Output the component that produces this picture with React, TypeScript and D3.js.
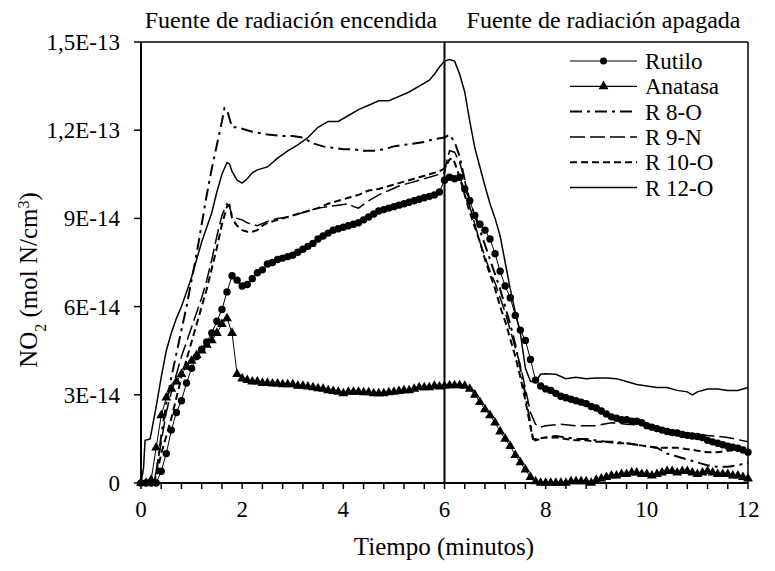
import React from "react";
import * as d3 from "d3";

const UNIT = 1e-14;

// Sampling grid for the marker series (minutes)
const markerTimes: number[] = d3.range(121).map((i) => i / 10);

// values in units of 1E-14 mol N/cm3
const rutilo = [
  0, 0, 0, 0, 0.4, 1.0, 1.8, 2.4, 2.8, 3.4,
  3.9, 4.3, 4.55, 4.8, 5.1, 5.5, 5.9, 6.5, 7.05, 6.9,
  6.7, 6.75, 6.95, 7.15, 7.25, 7.45, 7.5, 7.6, 7.65, 7.7,
  7.75, 7.85, 7.95, 8.05, 8.15, 8.3, 8.4, 8.5, 8.6, 8.65,
  8.7, 8.75, 8.8, 8.85, 8.95, 9.05, 9.15, 9.25, 9.3, 9.35,
  9.4, 9.45, 9.5, 9.55, 9.6, 9.65, 9.7, 9.75, 9.8, 9.9,
  10.3, 10.4, 10.35, 10.4, 10.0, 9.6, 9.1, 8.8, 8.6, 8.3,
  7.8, 7.2, 6.7, 6.3, 5.7, 5.2, 4.85, 4.2, 3.5, 3.3,
  3.2, 3.15, 3.05, 2.95, 2.9, 2.85, 2.8, 2.75, 2.7, 2.6,
  2.55, 2.45, 2.35, 2.25, 2.2, 2.15, 2.15, 2.1, 2.1, 2.05,
  1.95, 1.9, 1.85, 1.8, 1.75, 1.72, 1.7, 1.65, 1.62, 1.6,
  1.58, 1.55, 1.45, 1.4, 1.35, 1.3, 1.25, 1.22, 1.18, 1.12,
  1.05,
];

const anatasa = [
  0, 0, 0.1, 1.2, 2.3, 2.9, 3.2, 3.45, 3.7, 3.95,
  4.15, 4.35, 4.5, 4.7, 4.85, 5.1, 5.4, 5.6, 5.1, 3.7,
  3.55, 3.5, 3.45, 3.45, 3.4, 3.4, 3.38, 3.38, 3.35, 3.35,
  3.35, 3.3, 3.3, 3.28, 3.25, 3.22, 3.2, 3.15, 3.12, 3.1,
  3.05, 3.1, 3.1, 3.1, 3.08, 3.08, 3.05, 3.05, 3.05, 3.08,
  3.1, 3.12, 3.15, 3.15, 3.2, 3.25, 3.25, 3.25, 3.3, 3.28,
  3.3, 3.32, 3.32, 3.32, 3.3, 3.2, 3.0, 2.75, 2.5, 2.3,
  2.05, 1.75, 1.5, 1.25, 0.95, 0.7, 0.45, 0.2, 0.05, 0,
  0, 0, 0, 0, 0, 0.05, 0.05, 0.05, 0.05, 0,
  0.1, 0.15, 0.2, 0.25, 0.25, 0.3, 0.3, 0.35, 0.35, 0.3,
  0.3, 0.25, 0.3, 0.35, 0.4, 0.4, 0.35, 0.4, 0.4, 0.35,
  0.3, 0.35, 0.4, 0.35, 0.3, 0.3, 0.3, 0.25, 0.25, 0.2,
  0.15,
];

const r8oT = [0, 0.25, 0.3, 0.4, 0.5, 0.6, 0.7, 0.8, 0.9, 1.0, 1.1, 1.2, 1.3, 1.4, 1.5, 1.6, 1.65, 1.7, 1.75, 1.8, 1.9, 2.0, 2.2, 2.5, 2.8, 3.0, 3.2, 3.4, 3.6, 3.8, 4.0, 4.2, 4.4, 4.6, 4.8, 5.0, 5.2, 5.4, 5.6, 5.8, 6.0, 6.1, 6.2, 6.3, 6.4, 6.5, 6.6, 6.7, 6.8, 6.9, 7.0, 7.1, 7.2, 7.3, 7.4, 7.5, 7.6, 7.7, 7.75, 7.8, 8.0, 8.2, 8.4, 8.6, 8.8, 9.0, 9.2, 9.4, 9.6, 9.8, 10.0, 10.2, 10.4, 10.6, 10.8, 11.0, 11.2, 11.4, 11.6, 11.8, 12.0];
const r8oV = [0, 0, 0.3, 1.6, 2.7, 3.6, 4.4, 5.2, 6.0, 6.9, 7.8, 8.8, 9.8, 10.7, 11.5, 12.3, 12.75, 12.7, 12.4, 12.1, 12.1, 12.05, 11.95, 11.85, 11.8, 11.8, 11.75, 11.55, 11.45, 11.4, 11.35, 11.35, 11.3, 11.3, 11.35, 11.45, 11.5, 11.55, 11.6, 11.7, 11.75, 11.85, 11.6, 11.1, 10.3, 9.6, 9.1, 8.6, 8.1, 7.6, 7.1, 6.6, 6.0, 5.4, 4.7, 3.9, 3.0, 2.0, 1.5, 1.45, 1.55, 1.6, 1.55, 1.5, 1.5, 1.45, 1.4, 1.4, 1.35, 1.3, 1.25, 1.2, 1.0, 0.9, 0.8, 0.7, 0.6, 0.55, 0.55, 0.6, 0.7];

const r9nT = [0, 0.25, 0.3, 0.4, 0.5, 0.6, 0.7, 0.8, 0.9, 1.0, 1.1, 1.2, 1.3, 1.4, 1.5, 1.6, 1.7, 1.75, 1.8, 1.9, 2.0, 2.1, 2.2, 2.3, 2.5, 2.7, 2.9, 3.1, 3.3, 3.5, 3.7, 3.9, 4.1, 4.2, 4.3, 4.5, 4.7, 4.9, 5.1, 5.3, 5.5, 5.7, 5.9, 6.0, 6.05, 6.1, 6.2, 6.3, 6.4, 6.5, 6.6, 6.7, 6.8, 6.9, 7.0, 7.1, 7.2, 7.3, 7.4, 7.5, 7.6, 7.7, 7.8, 7.9, 8.0, 8.3, 8.6, 9.0, 9.3, 9.6, 10.0, 10.3, 10.6, 11.0, 11.3, 11.6, 12.0];
const r9nV = [0, 0, 0.4, 1.4, 2.4, 3.1, 3.7, 4.3, 4.8, 5.3, 5.8, 6.3, 6.9, 7.6, 8.4, 9.1, 9.5, 9.4, 9.1, 9.0, 8.95, 8.85, 8.8, 8.75, 8.9, 9.0, 9.05, 9.15, 9.25, 9.35, 9.4, 9.45, 9.5, 9.4, 9.35, 9.6, 9.8, 9.95, 10.1, 10.2, 10.3, 10.4, 10.5, 10.55, 11.0, 11.3, 11.25, 10.9, 10.3, 9.4, 8.8, 8.2, 7.7, 7.2, 6.8, 6.3, 5.8, 5.2, 4.6, 4.0, 3.2, 2.4, 2.0, 1.9, 1.95, 2.0, 1.95, 1.95, 2.05, 2.0, 1.95, 1.85, 1.75, 1.65, 1.6, 1.55, 1.4];

const r10oT = [0, 0.25, 0.3, 0.4, 0.5, 0.6, 0.7, 0.8, 0.9, 1.0, 1.1, 1.2, 1.3, 1.4, 1.5, 1.6, 1.7, 1.75, 1.8, 1.9, 2.0, 2.1, 2.2, 2.3, 2.4, 2.5, 2.7, 2.9, 3.1, 3.3, 3.5, 3.7, 3.9, 4.1, 4.3, 4.5, 4.7, 4.9, 5.1, 5.3, 5.5, 5.7, 5.9, 6.0, 6.1, 6.15, 6.2, 6.3, 6.4, 6.5, 6.6, 6.7, 6.8, 6.9, 7.0, 7.1, 7.2, 7.3, 7.4, 7.5, 7.6, 7.7, 7.75, 7.8, 8.0, 8.2, 8.4, 8.6, 8.8, 9.0, 9.2, 9.4, 9.6, 9.8, 10.0, 10.2, 10.4, 10.6, 10.8, 11.0, 11.2, 11.4, 11.6, 11.8, 12.0];
const r10oV = [0, 0, 0.2, 1.0, 1.6, 2.2, 2.9, 3.6, 4.2, 4.8, 5.4, 6.0, 6.6, 7.3, 8.0, 8.8, 9.4, 9.45, 9.0, 8.75, 8.6, 8.55, 8.55, 8.6, 8.75, 8.85, 8.95, 9.05, 9.15, 9.25, 9.35, 9.5, 9.6, 9.7, 9.8, 9.95, 10.0, 10.1, 10.2, 10.3, 10.4, 10.5, 10.6, 10.7, 11.0, 11.05, 10.9, 10.4, 9.8, 9.2, 8.7, 8.2, 7.6, 7.1, 6.6, 6.0, 5.5, 4.9, 4.3, 3.6, 2.8, 1.9, 1.5, 1.5, 1.55, 1.55, 1.5, 1.45, 1.45, 1.4, 1.4, 1.35, 1.35, 1.3, 1.25, 1.2, 1.2, 1.2, 1.15, 1.1, 1.05, 1.05, 1.1, 1.12, 1.15];

const r12oT = [0, 0.05, 0.08, 0.18, 0.3, 0.4, 0.5, 0.6, 0.7, 0.8, 0.9, 1.0, 1.1, 1.2, 1.3, 1.4, 1.5, 1.6, 1.7, 1.75, 1.8, 1.9, 2.0, 2.1, 2.2, 2.3, 2.5, 2.7, 2.9, 3.1, 3.3, 3.5, 3.7, 3.9, 4.1, 4.3, 4.5, 4.7, 4.9, 5.1, 5.3, 5.5, 5.7, 5.8, 5.9, 6.0, 6.1, 6.2, 6.3, 6.4, 6.5, 6.6, 6.7, 6.8, 6.9, 7.0, 7.1, 7.2, 7.3, 7.4, 7.5, 7.6, 7.7, 7.8, 7.9, 8.0, 8.2, 8.4, 8.6, 8.8, 9.0, 9.2, 9.4, 9.6, 9.8, 10.0, 10.2, 10.4, 10.6, 10.8, 10.9, 11.0, 11.2, 11.4, 11.6, 11.8, 12.0];
const r12oV = [0, 0.5, 1.45, 1.5, 2.6, 3.6, 4.5, 5.1, 5.6, 6.0, 6.5, 7.0, 7.6, 8.2, 8.7, 9.2, 9.9, 10.5, 10.9, 10.85, 10.6, 10.3, 10.2, 10.35, 10.55, 10.65, 10.75, 11.05, 11.3, 11.5, 11.75, 12.1, 12.3, 12.3, 12.5, 12.7, 12.85, 13.0, 13.0, 13.15, 13.3, 13.5, 13.7, 13.9, 14.15, 14.35, 14.4, 14.35, 13.9, 13.3, 12.3, 11.4, 10.75, 10.1, 9.5, 9.0, 8.4, 7.5, 6.6, 5.8, 5.1, 3.9, 3.45, 3.45, 3.7, 3.72, 3.7, 3.55, 3.6, 3.55, 3.57, 3.57, 3.55, 3.45, 3.35, 3.3, 3.25, 3.25, 3.15, 3.1, 3.0, 3.1, 3.2, 3.2, 3.15, 3.15, 3.25];

const xTicks = [0, 2, 4, 6, 8, 10, 12];
const xMinorTicks: number[] = d3.range(0, 12.001, 0.4);
const yTicks = [0, 3e-14, 6e-14, 9e-14, 1.2e-13, 1.5e-13];
const yTickLabels = ["0", "3E-14", "6E-14", "9E-14", "1,2E-13", "1,5E-13"];
const legendNames = ["Rutilo", "Anatasa", "R 8-O", "R 9-N", "R 10-O", "R 12-O"];

const FONT = "Liberation Serif";

export default function App() {
  const W = 775;
  const H = 571;
  const x = d3.scaleLinear().domain([0, 12]).range([141, 748]);
  const y = d3.scaleLinear().domain([0, 1.5e-13]).range([483, 42]);

  const line = d3
    .line<[number, number]>()
    .x((d) => x(d[0]))
    .y((d) => y(d[1] * UNIT));

  const zip = (t: number[], v: number[]) => t.map((ti, i) => [ti, v[i]] as [number, number]);

  const rutiloPts = zip(markerTimes, rutilo);
  const anatasaPts = zip(markerTimes, anatasa);
  const tri = d3.symbol().type(d3.symbolTriangle).size(42)()!;

  const styles = [
    { dash: undefined, w: 1, marker: "circle" },
    { dash: undefined, w: 1, marker: "triangle" },
    { dash: "12,5,3,5", w: 2, marker: null },
    { dash: "15,5", w: 1.5, marker: null },
    { dash: "7,4", w: 2, marker: null },
    { dash: undefined, w: 1.5, marker: null },
  ];

  const lineSeries = [
    { pts: zip(r8oT, r8oV), s: styles[2] },
    { pts: zip(r9nT, r9nV), s: styles[3] },
    { pts: zip(r10oT, r10oV), s: styles[4] },
    { pts: zip(r12oT, r12oV), s: styles[5] },
  ];

  const [y0, y1] = y.range();
  const [x0, x1] = x.range();
  const ts = { fontFamily: FONT };

  return (
    <svg
      width={W}
      height={H}
      style={{ position: "absolute", left: 0, top: 0, background: "#fff", fontFamily: FONT }}
    >
      <rect x={0} y={0} width={W} height={H} fill="#fff" />
      {/* frame */}
      <line x1={x0} y1={y1} x2={x1} y2={y1} stroke="#000" strokeWidth={1.5} />
      <line x1={x1} y1={y1} x2={x1} y2={y0} stroke="#000" strokeWidth={1.5} />
      {/* vertical divider at t=6 */}
      <line x1={x(6)} y1={y1} x2={x(6)} y2={y0} stroke="#000" strokeWidth={2} />

      {/* line series */}
      {lineSeries.map((ls, i) => (
        <path
          key={i}
          d={line(ls.pts)!}
          fill="none"
          stroke="#000"
          strokeWidth={ls.s.w}
          strokeDasharray={ls.s.dash}
        />
      ))}

      {/* Anatasa */}
      <path d={line(anatasaPts)!} fill="none" stroke="#000" strokeWidth={1} />
      {anatasaPts.map((p, i) => (
        <path key={i} d={tri} transform={`translate(${x(p[0])},${y(p[1] * UNIT)})`} fill="#000" />
      ))}

      {/* Rutilo */}
      <path d={line(rutiloPts)!} fill="none" stroke="#000" strokeWidth={1} />
      {rutiloPts.map((p, i) => (
        <circle key={i} cx={x(p[0])} cy={y(p[1] * UNIT)} r={3.7} fill="#000" />
      ))}

      {/* axes */}
      <line x1={x0} y1={y0} x2={x1} y2={y0} stroke="#000" strokeWidth={2} />
      <line x1={x0} y1={y0} x2={x0} y2={y1} stroke="#000" strokeWidth={2} />
      {xMinorTicks.map((t, i) => (
        <line key={i} x1={x(t)} x2={x(t)} y1={y0} y2={y0 + 6} stroke="#000" strokeWidth={1.5} />
      ))}
      {xTicks.map((t, i) => (
        <text key={i} x={x(t)} y={517} fontSize={23} textAnchor="middle" style={ts}>
          {t}
        </text>
      ))}
      {yTicks.map((v, i) => (
        <g key={i}>
          <line x1={x0 - 7} x2={x0} y1={y(v)} y2={y(v)} stroke="#000" strokeWidth={1.5} />
          <text x={120} y={y(v) + 8} fontSize={23} textAnchor="end" style={ts}>
            {yTickLabels[i]}
          </text>
        </g>
      ))}

      {/* axis titles */}
      <text x={444} y={555} fontSize={25} textAnchor="middle" style={ts}>
        Tiempo (minutos)
      </text>
      <text transform="translate(37,280) rotate(-90)" fontSize={25} textAnchor="middle" style={ts}>
        NO<tspan baselineShift="sub" fontSize={16}>2</tspan>
        <tspan> (mol N/cm</tspan>
        <tspan baselineShift="super" fontSize={16}>3</tspan>
        <tspan>)</tspan>
      </text>

      {/* top annotations */}
      <text x={291} y={28} fontSize={24} textAnchor="middle" style={ts}>
        Fuente de radiación encendida
      </text>
      <text x={603.5} y={28} fontSize={24} textAnchor="middle" style={ts}>
        Fuente de radiación apagada
      </text>

      {/* legend */}
      {legendNames.map((name, i) => {
        const ly = 61 + i * 25.3;
        const s = styles[i];
        return (
          <g key={name}>
            <line x1={570} x2={637} y1={ly} y2={ly} stroke="#000" strokeWidth={s.w === 1 ? 1.2 : s.w} strokeDasharray={s.dash} />
            {s.marker === "circle" && <circle cx={603.5} cy={ly} r={3.5} fill="#000" />}
            {s.marker === "triangle" && <path d={tri} transform={`translate(603.5,${ly})`} fill="#000" />}
            <text x={645} y={ly + 8} fontSize={23} style={ts}>
              {name}
            </text>
          </g>
        );
      })}
    </svg>
  );
}
